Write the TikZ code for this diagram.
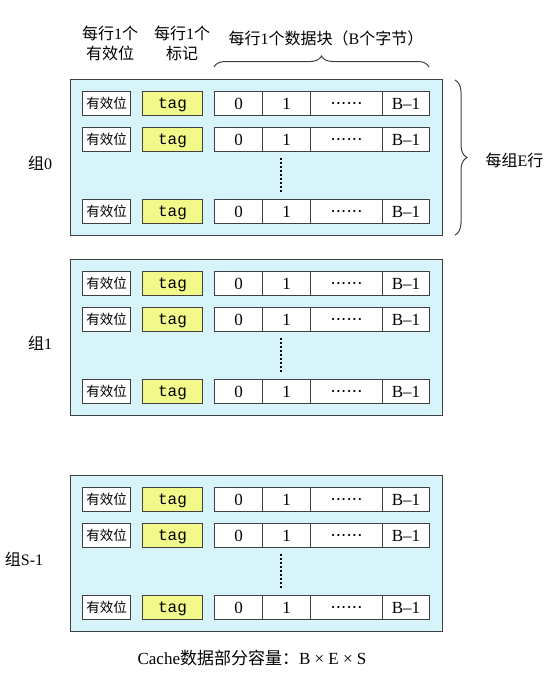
\documentclass[tikz,border=0pt]{standalone}
\usepackage{fontspec}
\setmainfont{Liberation Serif}
\setmonofont{Liberation Mono}
\newfontfamily\cjk{Noto Sans CJK SC}
\usetikzlibrary{decorations.pathreplacing}
\definecolor{groupfill}{HTML}{D8F4FB}
\definecolor{tagfill}{HTML}{F2F98A}
\definecolor{edge}{HTML}{404040}
\newcommand{\sixdots}{{\fontsize{9}{9}\selectfont •\kern2.2pt•\kern2.2pt•\kern2.2pt•\kern2.2pt•\kern2.2pt•}}
\tikzset{
  groupbox/.style={draw=edge, fill=groupfill, line width=1pt, minimum width=372pt, minimum height=156pt, inner sep=0pt, anchor=north west},
  cell/.style={draw=edge, fill=white, line width=1pt, minimum height=24pt, inner sep=0pt, text height=13pt, text depth=1pt, anchor=north west, font=\fontsize{17}{17}\selectfont},
  validcell/.style={cell, minimum width=48pt, text height=12pt, text depth=2pt, font=\cjk\fontsize{13.5}{13.5}\selectfont},
  tagcell/.style={cell, fill=tagfill, minimum width=60pt, text height=12pt, text depth=2pt, font=\ttfamily\fontsize{16}{16}\selectfont},
  datacell/.style={cell, minimum width=48pt},
  widecell/.style={cell, minimum width=72pt, text height=10pt, text depth=4pt},
  headtext/.style={align=center, font=\fontsize{16}{20}\selectfont},
  grouplabel/.style={font=\fontsize{16}{16}\selectfont},
  bracestyle/.style={decorate, decoration={brace, amplitude=11pt}, line width=1pt, draw=edge},
  vdots/.style={line width=2pt, dash pattern=on 2pt off 2pt}
}
\begin{document}
\begin{tikzpicture}[x=1pt, y=-1pt]
\useasboundingbox (0,0) rectangle (555,680);
% headers
\node[headtext] (h1) at (110,43) {{\cjk 每行}1{\cjk 个}\\{\cjk 有效位}};
\node[headtext] (h2) at (182,43) {{\cjk 每行}1{\cjk 个}\\{\cjk 标记}};
\node[headtext] (h3) at (326,38) {{\cjk 每行}1{\cjk 个数据块（}B{\cjk 个字节）}};
\coordinate (tb1) at (214,67);
\coordinate (tb2) at (429,67);
\draw[bracestyle] (tb1) -- (tb2);
% groups
\foreach \gi/\top/\lab/\lx in {0/79/{\cjk 组}0/40, 1/259/{\cjk 组}1/40, 2/475/{\cjk 组}S-1/24}{
  \node[groupbox] (g\gi) at (70,\top) {};
  \node[grouplabel] (l\gi) at (\lx,\top+84) {\lab};
  \foreach \ri/\off in {1/12, 2/48, 3/120}{
    \node[validcell] (g\gi r\ri v) at (82,\top+\off) {有效位};
    \node[tagcell] (g\gi r\ri t) at (142,\top+\off) {tag};
    \node[datacell] (g\gi r\ri a) at (214,\top+\off) {0};
    \node[datacell] (g\gi r\ri b) at (262,\top+\off) {1};
    \node[widecell] (g\gi r\ri c) at (310,\top+\off) {\sixdots};
    \node[cell, minimum width=47pt] (g\gi r\ri d) at (382,\top+\off) {B–1};
  }
  \coordinate (d\gi a) at (281,\top+79);
  \coordinate (d\gi b) at (281,\top+113);
  \draw[vdots] (d\gi a) -- (d\gi b);
}
% right brace
\coordinate (rb1) at (455,80);
\coordinate (rb2) at (455,235);
\draw[bracestyle, decoration={brace, amplitude=12pt}] (rb1) -- (rb2);
\node[font=\fontsize{16}{16}\selectfont, anchor=west] (eline) at (482,160) {{\cjk 每组}E{\cjk 行}};
% bottom caption
\node[font=\fontsize{17}{17}\selectfont] (cap) at (252,658) {Cache{\cjk 数据部分容量：}B × E × S};
\end{tikzpicture}
\end{document}
